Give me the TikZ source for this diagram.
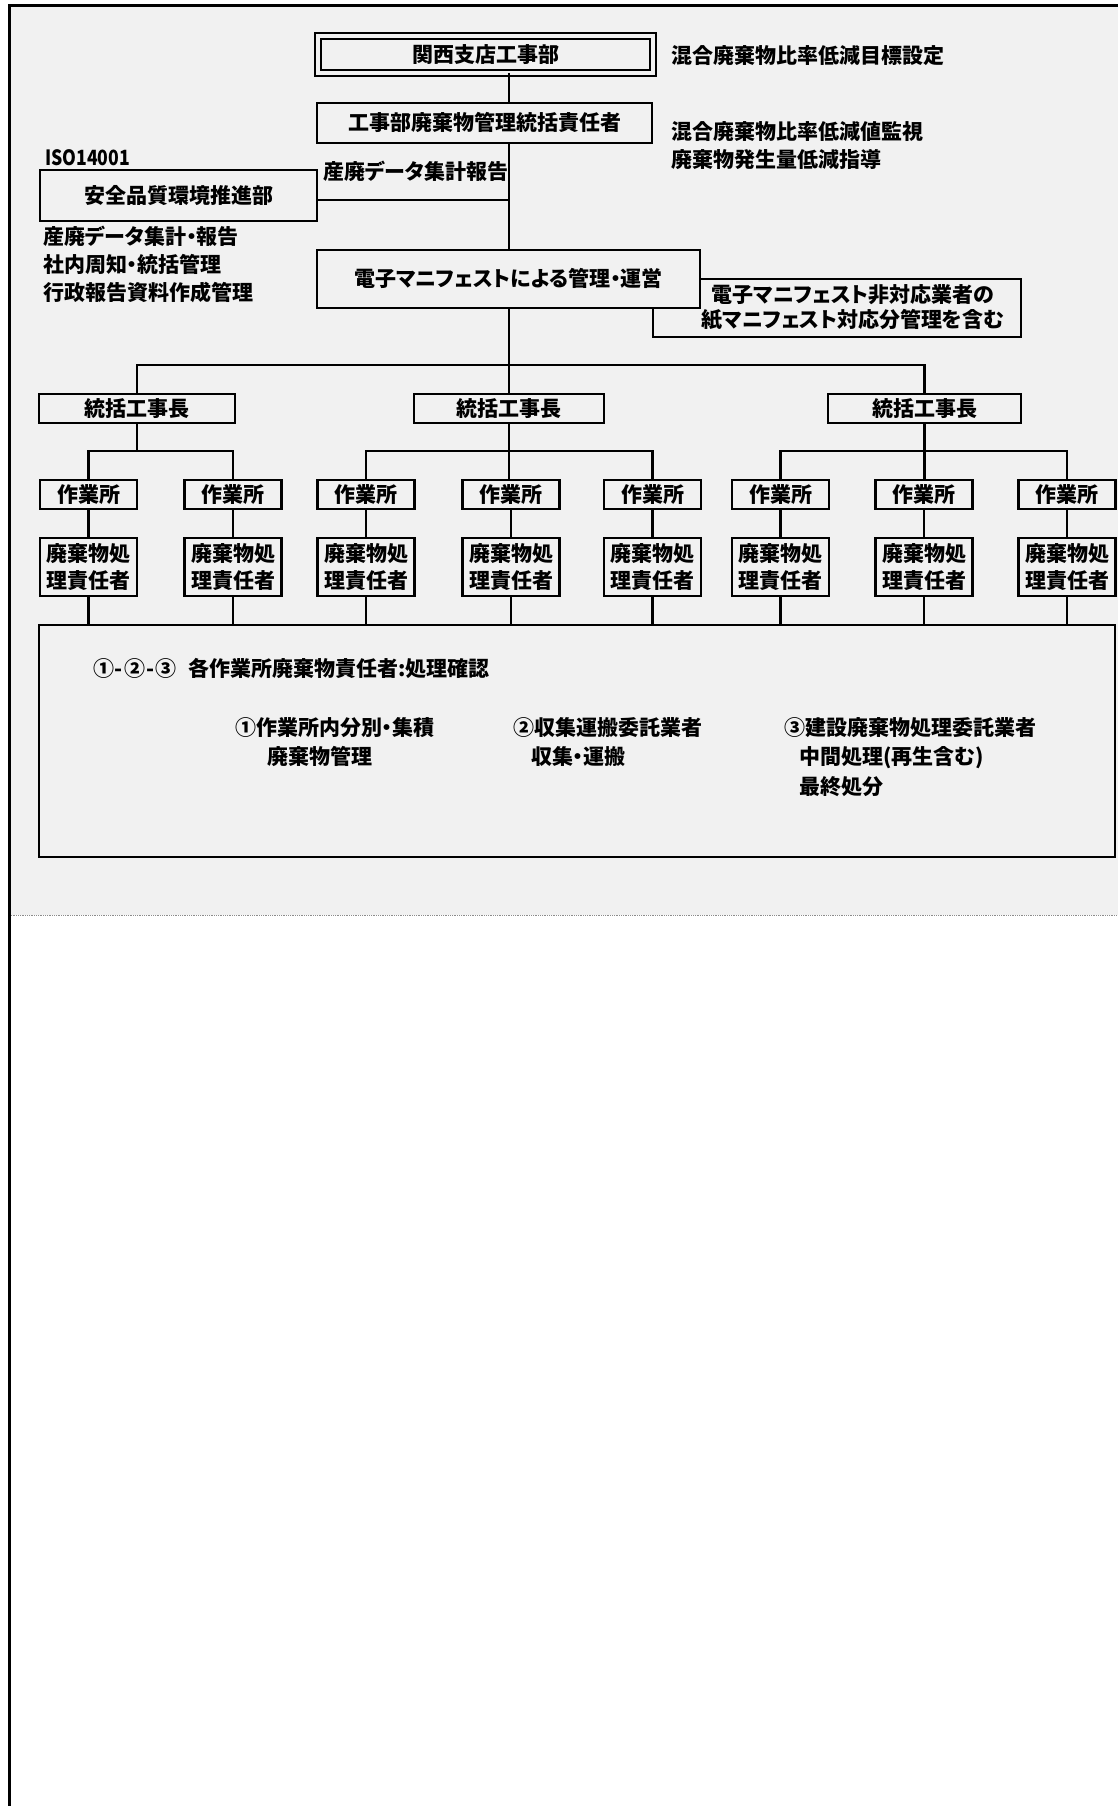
\documentclass[tikz,border=0pt]{standalone}
\usepackage{fontspec}
\usepackage{graphicx}
\setmainfont{Noto Sans CJK JP}[RawFeature=+palt]
\definecolor{bg}{gray}{0.945}
\newcommand\jfont{\fontsize{21pt}{27pt}\selectfont\bfseries}
\begin{document}
\begin{tikzpicture}[x=1pt,y=-1pt,
  every node/.style={inner sep=0pt, outer sep=0pt, font=\jfont},
  box/.style={draw, line width=2.3pt, fill=bg, align=center},
  one/.style={text height=18pt, text depth=2.5pt},
  lbl/.style={anchor=west, text height=18pt, text depth=2.5pt},
  conn/.style={line width=2.2pt}]
\useasboundingbox (0,0) rectangle (1118,1806);
\fill[white] (0,0) rectangle (1118,1806);
\fill[bg] (9,6) rectangle (1118,915);
\draw[black!45, line width=0.8pt, densely dotted] (9,915) -- (1118,915);
\draw[line width=3pt] (1118,6) -- (9,6) -- (9,1806);

% top boxes
\node[box, one, double=bg, line width=2.5pt, double distance=3.3pt,
      minimum width=335pt, minimum height=37pt] (kansai) at (485.5,54.5) {関西支店工事部};
\node[box, one, minimum width=335pt, minimum height=40pt] (tokatsu) at (484.5,123) {工事部廃棄物管理統括責任者};
\node[box, one, minimum width=277pt, minimum height=51pt] (anzen) at (178.5,195.5) {安全品質環境推進部};
\node[box, minimum width=368pt, minimum height=58pt] (hitaio) at (837,308) {};
\node[align=center, font=\fontsize{21pt}{25pt}\selectfont\bfseries] (hitaiotxt) at (853,307)
  {電子マニフェスト非対応業者の\\紙マニフェスト対応分管理を含む};
\node[box, one, minimum width=383pt, minimum height=58pt] (denshi) at (508.5,279) {電子マニフェストによる管理・運営};

% labels
\node[lbl] (r1) at (671,56) {混合廃棄物比率低減目標設定};
\node[lbl] (r2) at (671,132) {混合廃棄物比率低減値監視};
\node[lbl] (r3) at (671,160) {廃棄物発生量低減指導};
\node[lbl] (iso) at (45,158) {\scalebox{0.84}[1]{ISO14001}};
\node[lbl] (sanpai) at (323,172) {産廃データ集計報告};
\node[lbl] (l1) at (43,237) {産廃データ集計・報告};
\node[lbl] (l2) at (43,265) {社内周知・統括管理};
\node[lbl] (l3) at (43,293) {行政報告資料作成管理};

% managers
\node[box, one, minimum width=196pt, minimum height=29pt] (sk1) at (137,408.5) {統括工事長};
\node[box, one, minimum width=190pt, minimum height=29pt] (sk2) at (509,408.5) {統括工事長};
\node[box, one, minimum width=193pt, minimum height=29pt] (sk3) at (924.5,408.5) {統括工事長};

% sites
\foreach \i/\x in {1/88.5,2/233,3/366,4/511,5/652.5,6/780.5,7/924,8/1067} {
  \node[box, one, minimum width=97pt, minimum height=29pt] (sg\i) at (\x,494.5) {作業所};
  \node[box, minimum width=97pt, minimum height=58pt] (hk\i) at (\x,567) {廃棄物処\\理責任者};
}

% bottom box
\node[box, minimum width=1076pt, minimum height=232pt] (big) at (577,741) {};
\node[lbl] (t0) at (93,669) {①\kern1pt-\kern1pt②\kern1pt-\kern1pt③\hspace{12pt}各作業所廃棄物責任者:処理確認};
\node[lbl] (t1) at (235,728) {①作業所内分別・集積};
\node[lbl] (t1b) at (267,757) {廃棄物管理};
\node[lbl] (t2) at (513,728) {②収集運搬委託業者};
\node[lbl] (t2b) at (531,757) {収集・運搬};
\node[lbl] (t3) at (784,728) {③建設廃棄物処理委託業者};
\node[lbl] (t3b) at (799,757) {中間処理(再生含む)};
\node[lbl] (t3c) at (799,787) {最終処分};

% connectors
\coordinate (sp) at (509,0);
\coordinate (j1) at (509,200);
\coordinate (bar) at (509,365);
\coordinate (sb) at (0,451);
\draw[conn] (kansai.south -| sp) -- (tokatsu.north -| sp);
\draw[conn] (tokatsu.south -| sp) -- (denshi.north -| sp);
\draw[conn] (anzen.east |- j1) -- (j1);
\draw[conn] (denshi.south -| sp) -- (sk2.north -| sp);
\draw[conn] (sk1.north) -- (sk1.north |- bar) -- (sk3.north |- bar) -- (sk3.north);
\draw[conn] (sk1.south) -- (sk1.south |- sb);
\draw[conn] (sg1.north) -- (sg1.north |- sb) -- (sg2.north |- sb) -- (sg2.north);
\draw[conn] (sk2.south) -- (sk2.south |- sg4.north);
\draw[conn] (sg3.north) -- (sg3.north |- sb) -- (sg5.north |- sb) -- (sg5.north);
\draw[conn] (sk3.south) -- (sk3.south |- sg7.north);
\draw[conn] (sg6.north) -- (sg6.north |- sb) -- (sg8.north |- sb) -- (sg8.north);
\foreach \i in {1,...,8} {
  \draw[conn] (sg\i.south) -- (hk\i.north);
  \draw[conn] (hk\i.south) -- (hk\i.south |- big.north);
}
\end{tikzpicture}
\end{document}
